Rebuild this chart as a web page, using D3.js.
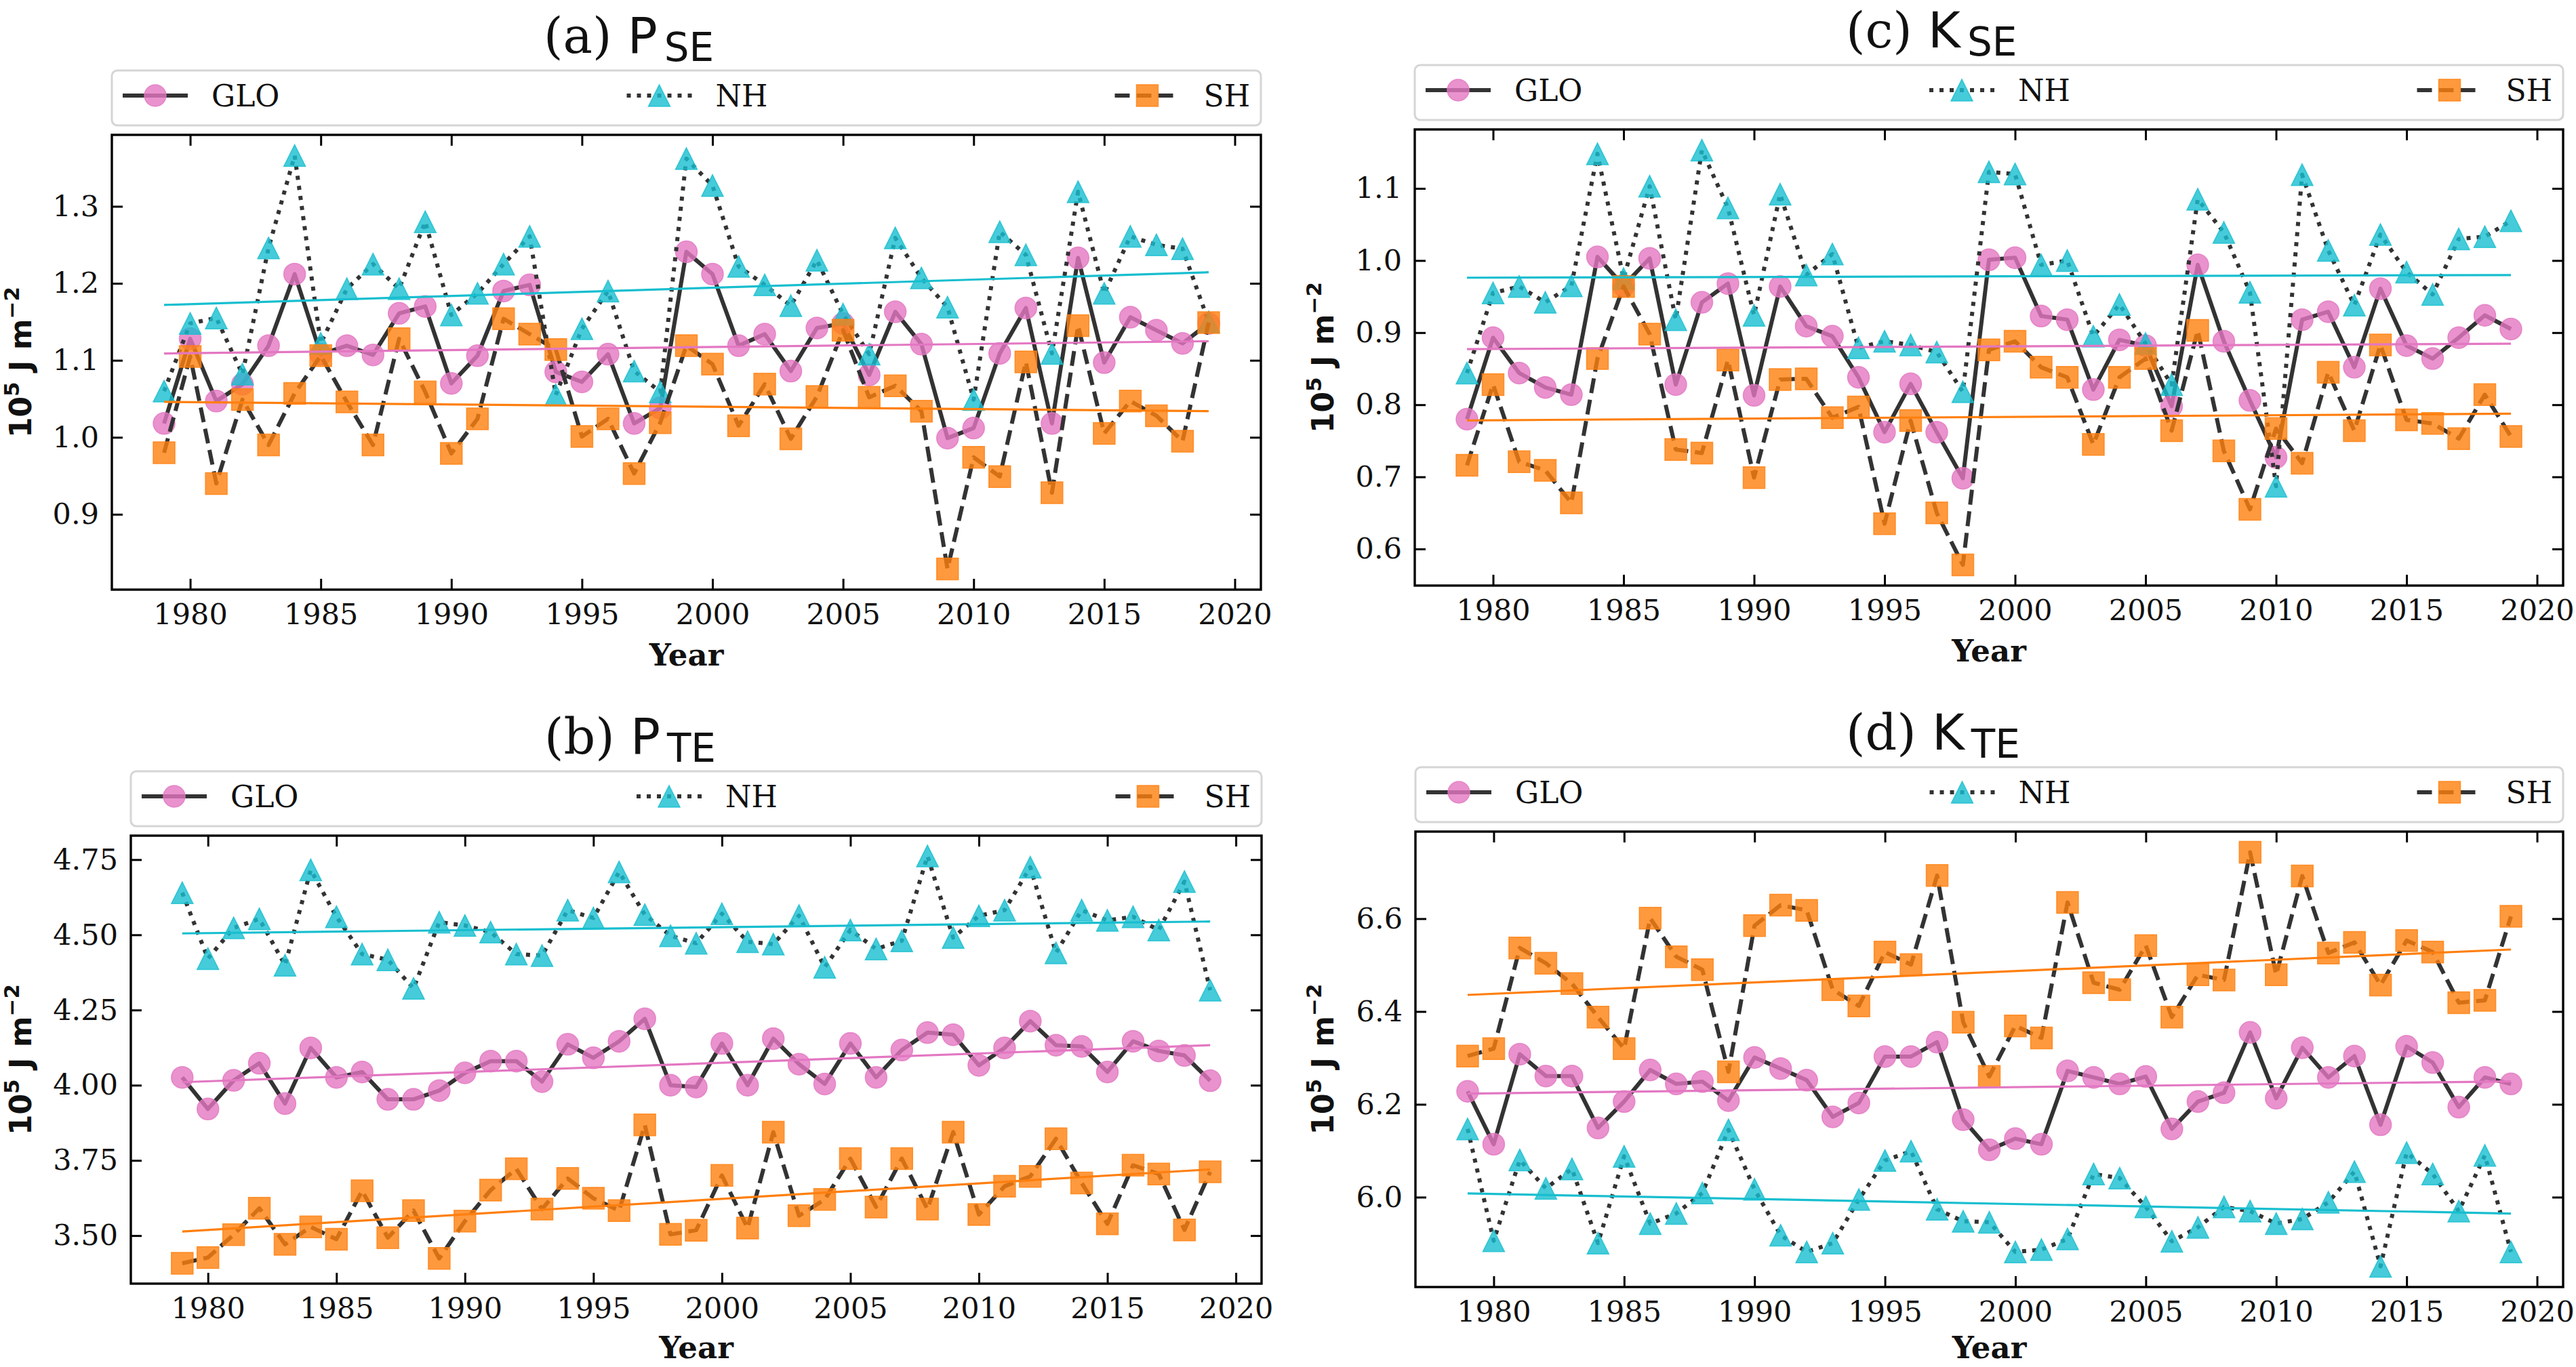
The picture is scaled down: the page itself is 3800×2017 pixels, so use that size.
<!DOCTYPE html>
<html>
<head>
<meta charset="utf-8">
<script src="https://cdn.jsdelivr.net/npm/d3@7"></script>
<style>
  html, body { margin: 0; padding: 0; background: #fff; }
  svg { display: block; }
</style>
</head>
<body>
<svg id="fig" width="3800" height="2017"></svg>
<script>
/* ===== Data ===== */

const YEARS = d3.range(1979, 2020);
const X_TICKS = [1980, 1985, 1990, 1995, 2000, 2005, 2010, 2015, 2020];

// (a) P_SE
const PSE_GLO = [1.018,1.128,1.047,1.069,1.119,1.212,1.108,1.119,1.107,1.161,1.170,1.070,1.106,1.190,1.198,1.085,1.072,1.108,1.018,1.038,
                 1.241,1.212,1.119,1.134,1.086,1.142,1.148,1.081,1.163,1.121,0.999,1.012,1.109,1.168,1.018,1.233,1.097,1.156,1.139,1.122,1.148];
const PSE_NH  = [1.060,1.148,1.155,1.082,1.246,1.366,1.122,1.193,1.225,1.193,1.280,1.159,1.187,1.225,1.261,1.055,1.141,1.190,1.086,1.059,
                 1.362,1.327,1.222,1.198,1.171,1.230,1.160,1.108,1.259,1.207,1.169,1.049,1.267,1.237,1.109,1.319,1.187,1.261,1.250,1.245,1.150];
const PSE_SH  = [0.980,1.105,0.940,1.049,0.990,1.057,1.106,1.046,0.990,1.128,1.059,0.979,1.024,1.154,1.134,1.114,1.001,1.024,0.953,1.019,
                 1.119,1.095,1.015,1.069,0.998,1.053,1.139,1.052,1.067,1.034,0.829,0.974,0.949,1.098,0.928,1.145,1.005,1.047,1.028,0.995,1.149];
const PSE_YTICKS = [0.9, 1.0, 1.1, 1.2, 1.3];

// (b) P_TE
const PTE_GLO = [4.026,3.921,4.016,4.073,3.939,4.124,4.026,4.044,3.953,3.953,3.982,4.041,4.080,4.080,4.012,4.136,4.091,4.146,4.221,4.000,
                 3.994,4.139,4.000,4.155,4.070,4.004,4.139,4.026,4.117,4.175,4.168,4.066,4.124,4.213,4.133,4.129,4.044,4.146,4.114,4.099,4.015];
const PTE_NH  = [4.640,4.421,4.523,4.553,4.399,4.716,4.560,4.436,4.417,4.322,4.542,4.531,4.509,4.436,4.431,4.582,4.556,4.709,4.567,4.497,
                 4.472,4.570,4.477,4.469,4.564,4.392,4.516,4.453,4.480,4.762,4.491,4.563,4.582,4.725,4.440,4.582,4.548,4.560,4.516,4.677,4.316];
const PTE_SH  = [3.408,3.427,3.503,3.591,3.471,3.529,3.488,3.649,3.493,3.583,3.424,3.548,3.651,3.722,3.588,3.690,3.624,3.583,3.868,3.504,
                 3.518,3.700,3.525,3.844,3.566,3.620,3.756,3.595,3.756,3.588,3.844,3.570,3.664,3.697,3.822,3.675,3.539,3.734,3.705,3.519,3.712];
const PTE_YTICKS = [3.5, 3.75, 4.0, 4.25, 4.5, 4.75];

// (c) K_SE
const KSE_GLO = [0.780,0.893,0.844,0.824,0.814,1.005,0.965,1.003,0.828,0.942,0.968,0.813,0.964,0.909,0.895,0.838,0.762,0.829,0.762,0.698,
                 1.001,1.004,0.923,0.918,0.821,0.890,0.882,0.798,0.994,0.888,0.806,0.727,0.918,0.929,0.852,0.961,0.882,0.864,0.893,0.924,0.905];
const KSE_NH  = [0.844,0.955,0.964,0.942,0.965,1.148,0.975,1.103,0.918,1.153,1.073,0.924,1.092,0.980,1.009,0.879,0.888,0.883,0.873,0.818,
                 1.123,1.120,0.994,1.000,0.895,0.939,0.885,0.828,1.085,1.039,0.956,0.687,1.119,1.014,0.938,1.036,0.984,0.953,1.030,1.033,1.055];
const KSE_SH  = [0.716,0.828,0.721,0.709,0.664,0.864,0.964,0.898,0.738,0.733,0.862,0.699,0.835,0.836,0.782,0.797,0.635,0.778,0.650,0.578,
                 0.876,0.888,0.852,0.838,0.745,0.838,0.864,0.764,0.903,0.736,0.655,0.767,0.719,0.845,0.764,0.883,0.779,0.774,0.753,0.814,0.756];
const KSE_YTICKS = [0.6, 0.7, 0.8, 0.9, 1.0, 1.1];

// (d) K_TE
const KTE_GLO = [6.228,6.114,6.308,6.261,6.261,6.149,6.206,6.274,6.244,6.249,6.208,6.301,6.277,6.252,6.173,6.203,6.303,6.303,6.334,6.167,
                 6.102,6.126,6.114,6.272,6.258,6.244,6.260,6.147,6.206,6.225,6.355,6.213,6.322,6.258,6.304,6.156,6.325,6.290,6.194,6.258,6.244];
const KTE_NH  = [6.147,5.906,6.080,6.019,6.061,5.901,6.088,5.943,5.965,6.009,6.145,6.017,5.918,5.882,5.901,5.995,6.079,6.099,5.974,5.948,
                 5.946,5.882,5.887,5.910,6.050,6.041,5.979,5.905,5.935,5.979,5.970,5.943,5.953,5.989,6.055,5.851,6.096,6.050,5.970,6.090,5.882];
const KTE_SH  = [6.304,6.320,6.537,6.504,6.460,6.388,6.320,6.601,6.518,6.490,6.270,6.585,6.629,6.618,6.447,6.412,6.528,6.501,6.693,6.377,
                 6.260,6.369,6.343,6.635,6.462,6.447,6.542,6.388,6.479,6.468,6.743,6.479,6.692,6.526,6.549,6.457,6.553,6.528,6.419,6.424,6.605];
const KTE_YTICKS = [6.0, 6.2, 6.4, 6.6];

/* ===== Styling / layout ===== */

const SERIES = [
  { key: 'GLO', color: '#e377c2', dash: null,    marker: 'circle' },
  { key: 'NH',  color: '#17becf', dash: '6,9',   marker: 'triangle' },
  { key: 'SH',  color: '#ff7f0e', dash: '22,10', marker: 'square' },
];

const PANELS = [
  { tag: '(a) ', sym: 'P', sub: 'SE', data: [PSE_GLO, PSE_NH, PSE_SH], yTicks: PSE_YTICKS, fmt: '.1f',
    L: 165,  R: 1860, T: 199,  B: 870,  ylabX: 46 },
  { tag: '(b) ', sym: 'P', sub: 'TE', data: [PTE_GLO, PTE_NH, PTE_SH], yTicks: PTE_YTICKS, fmt: '.2f',
    L: 193,  R: 1861, T: 1233, B: 1894, ylabX: 46 },
  { tag: '(c) ', sym: 'K', sub: 'SE', data: [KSE_GLO, KSE_NH, KSE_SH], yTicks: KSE_YTICKS, fmt: '.1f',
    L: 2087, R: 3781, T: 191,  B: 864,  ylabX: 1967 },
  { tag: '(d) ', sym: 'K', sub: 'TE', data: [KTE_GLO, KTE_NH, KTE_SH], yTicks: KTE_YTICKS, fmt: '.1f',
    L: 2088, R: 3781, T: 1227, B: 1899, ylabX: 1967 },
];

const SERIF = "'DejaVu Serif', serif";
const SANS = "'DejaVu Sans', sans-serif";
const LINE_COL = '#333';
const LW = 6;
const MS = 32;        // marker size
const TICK = 16;
const FS_TICK = 43;
const FS_LEG = 44;

const svg = d3.select('#fig');

function markerPath(type, s) {
  const h = s / 2;
  if (type === 'circle') return d3.symbol(d3.symbolCircle, Math.PI * h * h)();
  if (type === 'square') return d3.symbol(d3.symbolSquare, s * s)();
  return `M0,${-h}L${h},${h}L${-h},${h}Z`;
}

function linFit(xs, ys) {
  const mx = d3.mean(xs), my = d3.mean(ys);
  let num = 0, den = 0;
  xs.forEach((x, i) => { num += (x - mx) * (ys[i] - my); den += (x - mx) * (x - mx); });
  const k = num / den;
  return x => my + k * (x - mx);
}

function drawPanel(p) {
  const g = svg.append('g');

  // scales, 5% margins like matplotlib
  const xe = d3.extent(YEARS);
  const xpad = 0.05 * (xe[1] - xe[0]);
  const x = d3.scaleLinear().domain([xe[0] - xpad, xe[1] + xpad]).range([p.L, p.R]);
  const ye = d3.extent(p.data.flat());
  const ypad = 0.05 * (ye[1] - ye[0]);
  const y = d3.scaleLinear().domain([ye[0] - ypad, ye[1] + ypad]).range([p.B, p.T]);

  // axes with inward ticks on all four sides
  const styleAxis = sel => {
    sel.select('.domain').remove();
    sel.selectAll('.tick line').attr('stroke', '#000').attr('stroke-width', 3);
    sel.selectAll('.tick text').attr('font-family', SERIF).attr('font-size', FS_TICK).attr('fill', '#111');
  };
  g.append('g').attr('transform', `translate(0,${p.B})`)
    .call(d3.axisBottom(x).tickValues(X_TICKS).tickFormat(d3.format('d')).tickSize(-TICK).tickPadding(20))
    .call(styleAxis);
  g.append('g').attr('transform', `translate(0,${p.T})`)
    .call(d3.axisTop(x).tickValues(X_TICKS).tickFormat('').tickSize(-TICK))
    .call(styleAxis);
  g.append('g').attr('transform', `translate(${p.L},0)`)
    .call(d3.axisLeft(y).tickValues(p.yTicks).tickFormat(d3.format(p.fmt)).tickSize(-TICK).tickPadding(19))
    .call(styleAxis);
  g.append('g').attr('transform', `translate(${p.R},0)`)
    .call(d3.axisRight(y).tickValues(p.yTicks).tickFormat('').tickSize(-TICK))
    .call(styleAxis);

  // series: line then markers
  SERIES.forEach((s, i) => {
    const vals = p.data[i];
    const pts = YEARS.map((yr, j) => [yr, vals[j]]);
    g.append('path')
      .attr('d', d3.line().x(d => x(d[0])).y(d => y(d[1]))(pts))
      .attr('fill', 'none')
      .attr('stroke', LINE_COL)
      .attr('stroke-width', LW)
      .attr('stroke-linejoin', 'round')
      .attr('stroke-dasharray', s.dash);
    g.append('g').selectAll('path').data(pts).join('path')
      .attr('transform', d => `translate(${x(d[0])},${y(d[1])})`)
      .attr('d', markerPath(s.marker, MS))
      .attr('fill', s.color).attr('fill-opacity', 0.8)
      .attr('stroke', s.color).attr('stroke-opacity', 0.8).attr('stroke-width', 1.5);
  });

  // linear trends on top
  SERIES.forEach((s, i) => {
    const f = linFit(YEARS, p.data[i]);
    g.append('line')
      .attr('x1', x(xe[0])).attr('y1', y(f(xe[0])))
      .attr('x2', x(xe[1])).attr('y2', y(f(xe[1])))
      .attr('stroke', s.color).attr('stroke-width', 3.2);
  });

  // frame
  g.append('rect')
    .attr('x', p.L).attr('y', p.T).attr('width', p.R - p.L).attr('height', p.B - p.T)
    .attr('fill', 'none').attr('stroke', '#000').attr('stroke-width', 3.4);

  // x label
  g.append('text')
    .attr('x', (p.L + p.R) / 2).attr('y', Math.min(p.B + 112, 2004))
    .attr('text-anchor', 'middle')
    .attr('font-family', SERIF).attr('font-weight', 'bold').attr('font-size', 45)
    .attr('fill', '#111')
    .text('Year');

  // y label: 10^5 J m^-2
  const yl = g.append('text')
    .attr('transform', `translate(${p.ylabX},${(p.T + p.B) / 2}) rotate(-90)`)
    .attr('text-anchor', 'middle')
    .attr('font-family', SANS).attr('font-weight', 'bold').attr('font-size', 44)
    .attr('fill', '#111');
  yl.append('tspan').text('10');
  yl.append('tspan').attr('font-size', 31).attr('dy', -18).text('5');
  yl.append('tspan').attr('dy', 18).text(' J m');
  yl.append('tspan').attr('font-size', 31).attr('dy', -18).text('\u22122');

  // title
  const tx = p.R - 1058;
  const ty = p.T - 121;
  const t = g.append('text').attr('x', tx).attr('y', ty).attr('fill', '#111');
  t.append('tspan').attr('font-family', SERIF).attr('font-size', 73).text(p.tag);
  t.append('tspan').attr('font-family', SANS).attr('font-size', 73).text(p.sym);
  t.append('tspan').attr('font-family', SANS).attr('font-size', 58).attr('dx', 10).attr('dy', 12).text(p.sub);

  // legend (expanded across the axes width, 3 columns)
  const lgTop = p.T - 95, lgH = 81;
  const lg = g.append('g');
  lg.append('rect')
    .attr('x', p.L).attr('y', lgTop).attr('width', p.R - p.L).attr('height', lgH)
    .attr('rx', 8)
    .attr('fill', '#fff').attr('fill-opacity', 0.8)
    .attr('stroke', '#d5d5d5').attr('stroke-width', 3);
  const pad = 16, hLen = 96, tPad = 35;
  const labels = SERIES.map(s => lg.append('text')
    .attr('y', lgTop + 53)
    .attr('font-family', SERIF).attr('font-size', FS_LEG).attr('fill', '#111')
    .text(s.key));
  const widths = labels.map(l => hLen + tPad + l.node().getComputedTextLength());
  const extra = (p.R - p.L - 2 * pad - d3.sum(widths)) / (SERIES.length - 1);
  let cx = p.L + pad;
  SERIES.forEach((s, i) => {
    const hy = lgTop + 37;
    lg.append('line')
      .attr('x1', cx).attr('x2', cx + hLen).attr('y1', hy).attr('y2', hy)
      .attr('stroke', LINE_COL).attr('stroke-width', LW)
      .attr('stroke-dasharray', s.dash);
    lg.append('path')
      .attr('transform', `translate(${cx + hLen / 2},${hy})`)
      .attr('d', markerPath(s.marker, MS))
      .attr('fill', s.color).attr('fill-opacity', 0.8)
      .attr('stroke', s.color).attr('stroke-opacity', 0.8).attr('stroke-width', 1.5);
    labels[i].attr('x', cx + hLen + tPad);
    cx += widths[i] + extra;
  });
}

PANELS.forEach(drawPanel);
</script>
</body>
</html>
